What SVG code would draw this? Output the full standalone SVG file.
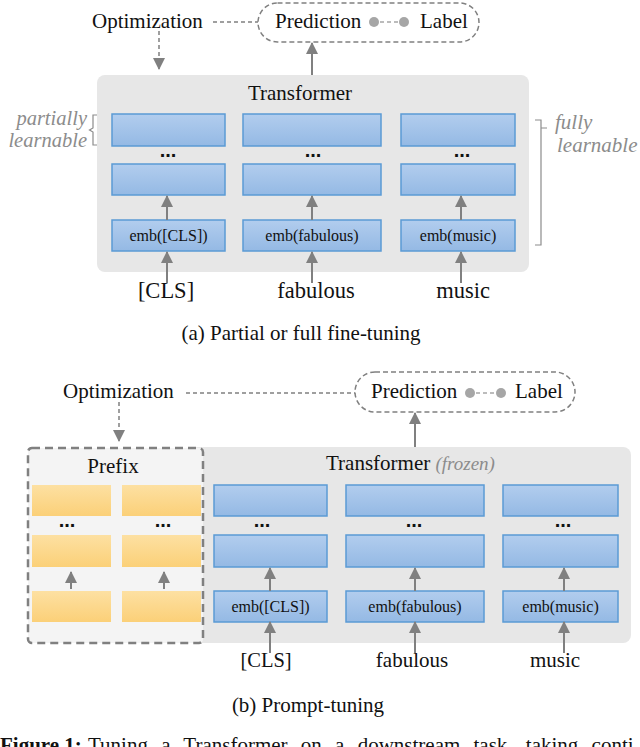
<svg xmlns="http://www.w3.org/2000/svg" width="640" height="747" viewBox="0 0 640 747" font-family="'Liberation Serif', 'DejaVu Serif', serif">
<defs>
<linearGradient id="gBlue" x1="0" y1="0" x2="0" y2="1">
<stop offset="0" stop-color="#b2cdee"/>
<stop offset="1" stop-color="#94b9e4"/>
</linearGradient>
<linearGradient id="gYel" x1="0" y1="0" x2="0" y2="1">
<stop offset="0" stop-color="#fde0a2"/>
<stop offset="1" stop-color="#fbd078"/>
</linearGradient>
<marker id="ah" markerUnits="userSpaceOnUse" markerWidth="12" markerHeight="12" viewBox="0 0 12 12" refX="11" refY="6" orient="auto">
<path d="M0,0 L12,6 L0,12 Z" fill="#808080"/>
</marker>
</defs>
<style>
text{font-family:'Liberation Serif','DejaVu Serif',serif}
.t{fill:#111}
.it{font-style:italic;fill:#8c8c8c}
.dots{font-family:'Liberation Sans',sans-serif;font-weight:bold;font-size:20px;fill:#111;text-anchor:middle}
.blue{fill:url(#gBlue);stroke:#5b9bd5;stroke-width:1.5}
.yel{fill:url(#gYel)}
.tf{fill:#e7e7e7}
.arr{stroke:#808080;stroke-width:2;fill:none;marker-end:url(#ah)}
.darr{stroke:#808080;stroke-width:1.5;fill:none;stroke-dasharray:4 3;marker-end:url(#ah)}
.dl{stroke:#808080;stroke-width:1.5;fill:none;stroke-dasharray:4 3}
.pill{fill:#fff;stroke:#808080;stroke-width:1.5;stroke-dasharray:5 3}
.dot{fill:#a6a6a6}
.br{stroke:#8c8c8c;stroke-width:1.2;fill:none}
.emb{font-size:16px;text-anchor:middle}
</style>

<!-- Panel (a) -->
<g id="a-transformer">
<rect class="tf" x="97" y="75" width="432" height="197" rx="8"/>
<text class="t" x="300" y="100" font-size="21" text-anchor="middle">Transformer</text>
</g>
<g id="a-col1">
<rect class="blue" x="112" y="114" width="113" height="32"/>
<text class="dots" x="168" y="157">...</text>
<rect class="blue" x="112" y="164" width="113" height="31"/>
<rect class="blue" x="112" y="220" width="113" height="31"/>
<text class="t emb" x="168.5" y="241">emb([CLS])</text>
</g>
<g id="a-col2">
<rect class="blue" x="243" y="114" width="138" height="32"/>
<text class="dots" x="313" y="157">...</text>
<rect class="blue" x="243" y="164" width="138" height="31"/>
<rect class="blue" x="243" y="220" width="138" height="31"/>
<text class="t emb" x="312" y="241">emb(fabulous)</text>
</g>
<g id="a-col3">
<rect class="blue" x="401" y="114" width="114" height="32"/>
<text class="dots" x="462" y="157">...</text>
<rect class="blue" x="401" y="164" width="114" height="31"/>
<rect class="blue" x="401" y="220" width="114" height="31"/>
<text class="t emb" x="458" y="241">emb(music)</text>
</g>
<g id="a-words">
<text class="t" x="166" y="298" font-size="22.5" text-anchor="middle">[CLS]</text>
<text class="t" x="316" y="298" font-size="22.5" text-anchor="middle">fabulous</text>
<text class="t" x="463" y="298" font-size="22.5" text-anchor="middle">music</text>
</g>
<g id="a-optimization">
<text class="t" x="92" y="28" font-size="21">Optimization</text>
</g>
<g id="a-pred">
<rect class="pill" x="258" y="3" width="221" height="39" rx="19.5"/>
<text class="t" x="275" y="28" font-size="21">Prediction</text>
<circle class="dot" cx="374" cy="22" r="5"/>
<circle class="dot" cx="404" cy="22" r="5"/>
<line x1="380" y1="22" x2="398" y2="22" stroke="#a6a6a6" stroke-width="1.5" stroke-dasharray="4 3"/>
<text class="t" x="420" y="28" font-size="21">Label</text>
</g>
<g id="a-partial">
<text class="it" x="87" y="125" font-size="20.5" text-anchor="end">partially</text>
<text class="it" x="87" y="147" font-size="20.5" text-anchor="end">learnable</text>
<path class="br" d="M97,115 H93 V128 L89.5,130 L93,132 V145 H97"/>
</g>
<g id="a-full">
<path class="br" d="M535,120 H541 V245 H535 M541,128 H547"/>
<text class="it" x="555" y="129" font-size="21">fully</text>
<text class="it" x="557" y="152" font-size="21">learnable</text>
</g>
<text class="t" x="301" y="340" font-size="21" text-anchor="middle">(a) Partial or full fine-tuning</text>

<g id="a-connectors">
<line class="dl" x1="213" y1="22" x2="258" y2="22"/>
<line class="darr" x1="159" y1="31" x2="159" y2="69"/>
<line class="arr" x1="312" y1="75" x2="312" y2="43"/>
<line class="arr" x1="167" y1="220" x2="167" y2="196"/>
<line class="arr" x1="312" y1="220" x2="312" y2="196"/>
<line class="arr" x1="461" y1="220" x2="461" y2="196"/>
<line class="arr" x1="167" y1="283" x2="167" y2="252"/>
<line class="arr" x1="312" y1="283" x2="312" y2="252"/>
<line class="arr" x1="461" y1="283" x2="461" y2="252"/>
</g>

<!-- Panel (b) -->
<g id="b-transformer">
<rect class="tf" x="190" y="447" width="441" height="196" rx="8"/>
<text class="t" x="326" y="470" font-size="21">Transformer <tspan class="it" font-size="19">(frozen)</tspan></text>
</g>
<g id="b-prefix">
<rect x="28" y="448" width="175" height="195" rx="4" fill="#f4f4f4" stroke="#808080" stroke-width="2.5" stroke-dasharray="8 5"/>
<text class="t" x="113" y="473" font-size="21" text-anchor="middle">Prefix</text>
<rect class="yel" x="32" y="485" width="79" height="31"/>
<rect class="yel" x="122" y="485" width="79" height="31"/>
<text class="dots" x="67" y="527">...</text>
<text class="dots" x="163" y="527">...</text>
<rect class="yel" x="32" y="535" width="79" height="32"/>
<rect class="yel" x="122" y="535" width="79" height="32"/>
<rect class="yel" x="32" y="591" width="79" height="31"/>
<rect class="yel" x="122" y="591" width="79" height="31"/>
</g>
<g id="b-col1">
<rect class="blue" x="214" y="485" width="113" height="31"/>
<text class="dots" x="262" y="527">...</text>
<rect class="blue" x="214" y="535" width="113" height="32"/>
<rect class="blue" x="214" y="591" width="113" height="31"/>
<text class="t emb" x="270.5" y="612">emb([CLS])</text>
</g>
<g id="b-col2">
<rect class="blue" x="346" y="485" width="138" height="31"/>
<text class="dots" x="414" y="527">...</text>
<rect class="blue" x="346" y="535" width="138" height="32"/>
<rect class="blue" x="346" y="591" width="138" height="31"/>
<text class="t emb" x="415" y="612">emb(fabulous)</text>
</g>
<g id="b-col3">
<rect class="blue" x="503" y="485" width="115" height="31"/>
<text class="dots" x="563" y="527">...</text>
<rect class="blue" x="503" y="535" width="115" height="32"/>
<rect class="blue" x="503" y="591" width="115" height="31"/>
<text class="t emb" x="560.5" y="612">emb(music)</text>
</g>
<g id="b-words">
<text class="t" x="266" y="667" font-size="20.5" text-anchor="middle">[CLS]</text>
<text class="t" x="412" y="667" font-size="21" text-anchor="middle">fabulous</text>
<text class="t" x="555" y="667" font-size="21" text-anchor="middle">music</text>
</g>
<g id="b-optimization">
<text class="t" x="63" y="398" font-size="21">Optimization</text>
</g>
<g id="b-pred">
<rect class="pill" x="355" y="372" width="220" height="40" rx="20"/>
<text class="t" x="371" y="398" font-size="21">Prediction</text>
<circle class="dot" cx="470" cy="393" r="5"/>
<circle class="dot" cx="501" cy="393" r="5"/>
<line x1="476" y1="393" x2="495" y2="393" stroke="#a6a6a6" stroke-width="1.5" stroke-dasharray="4 3"/>
<text class="t" x="515" y="398" font-size="21">Label</text>
</g>
<text class="t" x="308" y="712" font-size="21" text-anchor="middle">(b) Prompt-tuning</text>

<g id="b-connectors">
<line class="dl" x1="186" y1="393" x2="355" y2="393"/>
<line class="darr" x1="119" y1="402" x2="119" y2="441"/>
<line class="arr" x1="415" y1="447" x2="415" y2="413"/>
<line class="arr" x1="71" y1="589" x2="71" y2="572"/>
<line class="arr" x1="164" y1="589" x2="164" y2="572"/>
<line class="arr" x1="270" y1="591" x2="270" y2="568"/>
<line class="arr" x1="415" y1="591" x2="415" y2="568"/>
<line class="arr" x1="564" y1="591" x2="564" y2="568"/>
<line class="arr" x1="270" y1="653" x2="270" y2="622"/>
<line class="arr" x1="415" y1="653" x2="415" y2="622"/>
<line class="arr" x1="564" y1="653" x2="564" y2="622"/>
</g>

<text class="t" x="0" y="752" font-size="21"><tspan font-weight="bold">Figure 1:</tspan><tspan x="88" word-spacing="8">Tuning a Transformer on a downstream task, taking conti</tspan></text>
</svg>
